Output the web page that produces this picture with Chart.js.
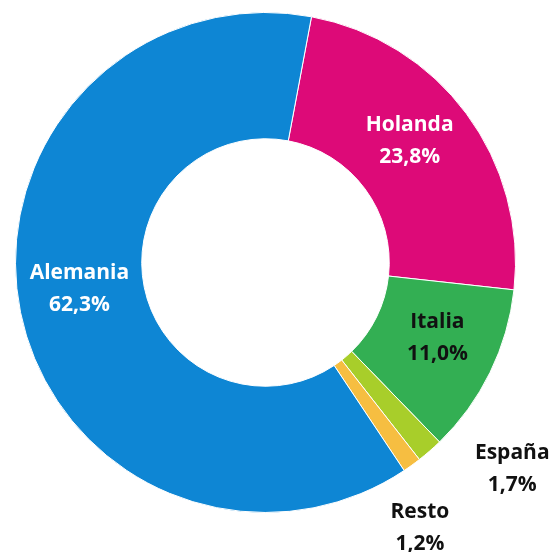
<!DOCTYPE html>
<html>
<head>
<meta charset="utf-8">
<script src="https://cdn.jsdelivr.net/npm/chart.js@4"></script>
<style>
  body { margin: 0; background: #fff; }
  #wrap { width: 556px; height: 552px; }
</style>
</head>
<body>
<div id="wrap"><canvas id="myChart" width="556" height="552"></canvas></div>
<script>
const labels = ['Holanda', 'Italia', 'España', 'Resto', 'Alemania'];
const values = [23.8, 11.0, 1.7, 1.2, 62.3];
const colors = ['#DD0A78', '#33AF53', '#A8CE2A', '#F6BE41', '#0E86D4'];
const textColors = ['#ffffff', '#111111', '#111111', '#111111', '#ffffff'];
// label nudges from the slice centre
const labelShift = [[-6, -10], [4, -7], [124, 66], [45, 114], [-3, -11]];

const sliceLabels = {
    id: 'sliceLabels',
    afterDatasetsDraw(chart) {
        const ctx = chart.ctx;
        const meta = chart.getDatasetMeta(0);
        ctx.save();
        ctx.font = 'bold 21px "Open Sans"';
        ctx.textAlign = 'center';
        ctx.textBaseline = 'middle';
        meta.data.forEach((arc, i) => {
            const p = arc.tooltipPosition();
            const x = p.x + labelShift[i][0];
            const y = p.y + labelShift[i][1];
            const pct = values[i].toFixed(1).replace('.', ',') + '%';
            ctx.fillStyle = textColors[i];
            ctx.fillText(labels[i], x, y - 16);
            ctx.fillText(pct, x, y + 16);
        });
        ctx.restore();
    }
};

const chart = new Chart(document.getElementById('myChart').getContext('2d'), {
    type: 'doughnut',
    data: {
        labels: labels,
        datasets: [{
            data: values,
            backgroundColor: colors,
            borderColor: '#ffffff',
            borderWidth: 1
        }]
    },
    options: {
        responsive: false,
        animation: false,
        rotation: 10.6,
        cutout: '49.5%',
        layout: { padding: { left: 15, right: 40, top: 12, bottom: 39 } },
        plugins: {
            legend: { display: false },
            tooltip: { enabled: false }
        }
    },
    plugins: [sliceLabels]
});
</script>
</body>
</html>
